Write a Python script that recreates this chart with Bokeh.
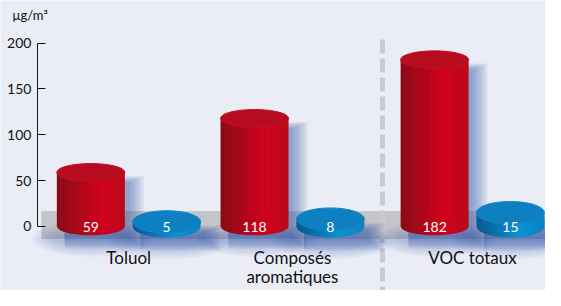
import numpy as np
from bokeh.plotting import figure
from bokeh.models import LinearAxis, FixedTicker, Range1d
from bokeh.core.properties import value
from bokeh.embed import file_html
from bokeh.resources import INLINE

# ---- data ----
categories = ["Toluol", "Composés\naromatiques", "VOC totaux"]
red_values = [59, 118, 182]
blue_values = [5, 8, 15]
y_ticks = [0, 50, 100, 150, 200]
unit_label = "µg/m³"

# ---- layout / style ----
group_x = [0.0, 1.0, 2.1]           # category positions (separator gap before last)
DX = 1 / 168.5                      # one reference pixel in x units
DY = 1 / 0.9875                     # one reference pixel in y units
OFFSET = 39 * DX
CYL_W = 70 * DX
RED_EH = 19 * DY
BLUE_EH = 24 * DY
BG = "#eaecf6"
FONT = "Lato"
AXIS_X = -94 * DX

p = figure(width=545, height=290,
           x_range=Range1d(-132 * DX, 429 * DX),
           y_range=Range1d(-70, 246.6),
           x_axis_type=None, y_axis_type=None,
           output_backend="svg", toolbar_location=None,
           min_border_left=0, min_border_right=0,
           min_border_top=0, min_border_bottom=0,
           background_fill_color=BG, border_fill_color=BG,
           outline_line_color=None)
p.grid.visible = False

yaxis = LinearAxis(ticker=FixedTicker(ticks=y_ticks), bounds=(0, 200),
                   fixed_location=AXIS_X,
                   major_tick_in=8, major_tick_out=0,
                   minor_tick_in=0, minor_tick_out=0,
                   major_label_standoff=6,
                   axis_line_color="#111111", major_tick_line_color="#111111",
                   major_label_text_font=FONT, major_label_text_font_size="14px",
                   major_label_text_color="#111111")
p.add_layout(yaxis, "left")

p.text(x=[-120 * DX], y=[231], text=[unit_label], text_font=value(FONT),
       text_font_size="13px", text_color="#111111", text_baseline="middle")

# ground band
p.quad(left=-90 * DX, right=440 * DX, bottom=-13.7, top=16.7,
       fill_color="#c4c5c9", line_color=None)

# separator
sep_x = (group_x[1] + group_x[2]) / 2
p.segment(x0=[sep_x], y0=[204], x1=[sep_x], y1=[-75],
          line_color="#c9cacd", line_width=5, line_dash="14 5")


def hex2rgb(h):
    h = h.lstrip("#")
    return np.array([int(h[i:i + 2], 16) for i in (0, 2, 4)], float)


def rgb2hex(c):
    return "#%02x%02x%02x" % tuple(int(round(v)) for v in c)


def shade(t, dark, bright, right):
    d, b, r = hex2rgb(dark), hex2rgb(bright), hex2rgb(right)
    if t < 0.65:
        return rgb2hex(d + (b - d) * t / 0.65)
    return rgb2hex(b + (r - b) * (t - 0.65) / 0.35)


def add_cylinders(xs_c, vals, eh, dark, bright, right, top_col, rim_col):
    w = CYL_W
    # soft shadows
    ql, qr, qb, qt = [], [], [], []
    for xc, v in zip(xs_c, vals):
        for k in range(1, 9):
            ql.append(xc - w / 2 + 8 * DX)
            qr.append(xc + w / 2 + (2 + 2.2 * k) * DX)
            qb.append(-eh / 2 - 1.8 * k * DY)
            qt.append(v - (12 - k) * DY)
    p.quad(left=ql, right=qr, bottom=qb, top=qt, fill_color="#3556a6",
           fill_alpha=0.08, line_color=None)
    ex, ey, ew, eh2 = [], [], [], []
    for xc, v in zip(xs_c, vals):
        for k in range(1, 7):
            ex.append(xc + 2 * DX)
            ey.append(-eh / 2 - 4 * DY)
            ew.append(w + 9 * k * DX)
            eh2.append((8 + 5 * k) * DY)
    p.ellipse(x=ex, y=ey, width=ew, height=eh2, fill_color="#3556a6",
              fill_alpha=0.06, line_color=None)
    # bodies as shaded strips
    n = 20
    pxs, pys, cols = [], [], []
    for xc, v in zip(xs_c, vals):
        edges = np.linspace(xc - w / 2, xc + w / 2, n + 1)
        for i in range(n):
            xa = edges[i]
            xb = min(edges[i + 1] + 0.6 * DX, xc + w / 2)
            xx = np.linspace(xb, xa, 4)
            arc = -eh / 2 * np.sqrt(np.clip(1 - ((xx - xc) / (w / 2)) ** 2, 0, 1))
            pxs.append([xa, xb] + list(xx))
            pys.append([v, v] + list(arc))
            cols.append(shade((i + 0.5) / n, dark, bright, right))
    p.patches(xs=pxs, ys=pys, fill_color=cols, line_color=None)
    # tops
    p.ellipse(x=xs_c, y=vals, width=w, height=eh, fill_color=top_col,
              line_color=rim_col, line_width=1)


red_x = [g - OFFSET for g in group_x]
blue_x = [g + OFFSET for g in group_x]

add_cylinders(red_x, red_values, RED_EH, "#880b15", "#d2021d", "#b8081b",
              "#b70c1f", "#c41024")
add_cylinders(blue_x, blue_values, BLUE_EH, "#0a5790", "#0993d3", "#0a82c2",
              "#0e7fc0", "#1187c8")

# value labels
p.text(x=red_x + blue_x, y=[-0.5] * 6,
       text=[str(v) for v in red_values + blue_values],
       text_color="white", text_font=value(FONT), text_font_size="14px",
       text_align="center", text_baseline="middle")

# category labels
p.text(x=group_x, y=[-22] * 3, text=categories, text_color="#111111",
       text_font=value(FONT), text_font_size="17px", text_align="center",
       text_baseline="top", text_line_height=0.95)

open("out.html", "w").write(file_html(p, INLINE))
